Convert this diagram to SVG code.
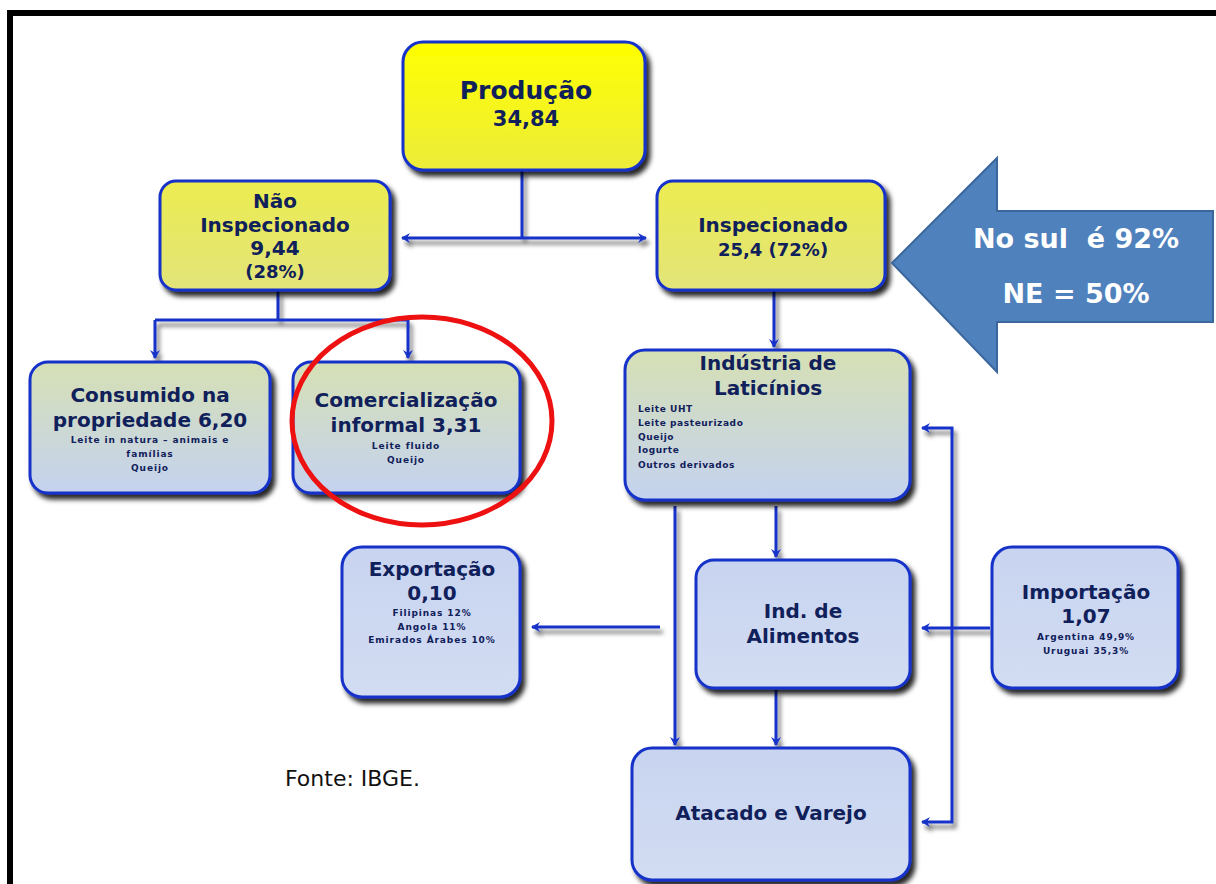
<svg xmlns="http://www.w3.org/2000/svg" width="1216" height="884" viewBox="0 0 1216 884">
<defs>
<linearGradient id="gYel" x1="0" y1="0" x2="0" y2="1"><stop offset="0" stop-color="#ffff00"/><stop offset="1" stop-color="#ecec3c"/></linearGradient>
<linearGradient id="gYel2" x1="0" y1="0" x2="0" y2="1"><stop offset="0" stop-color="#ecec50"/><stop offset="1" stop-color="#e2e47a"/></linearGradient>
<linearGradient id="gGB" x1="0" y1="0" x2="0" y2="1"><stop offset="0" stop-color="#d6e0b4"/><stop offset="1" stop-color="#c4d2f0"/></linearGradient>
<linearGradient id="gBlue" x1="0" y1="0" x2="0" y2="1"><stop offset="0" stop-color="#c8d4f0"/><stop offset="1" stop-color="#d2dcf2"/></linearGradient>
<filter id="sh" x="-10%" y="-10%" width="130%" height="130%"><feDropShadow dx="4" dy="5" stdDeviation="2.5" flood-color="#000" flood-opacity="0.85"/></filter>
<filter id="lsh" x="-10%" y="-50%" width="130%" height="250%"><feDropShadow dx="3" dy="5" stdDeviation="2" flood-color="#000" flood-opacity="0.55"/></filter>
<marker id="ah" markerWidth="10" markerHeight="10" refX="8" refY="5" orient="auto" markerUnits="userSpaceOnUse"><path d="M0,0 L9,5 L0,10 L3,5 Z" fill="#1432c8"/></marker>
<marker id="ahs" markerWidth="10" markerHeight="10" refX="1" refY="5" orient="auto" markerUnits="userSpaceOnUse"><path d="M9,0 L0,5 L9,10 L6,5 Z" fill="#1432c8"/></marker>
</defs>
<style>
.box{stroke:#1432c8;stroke-width:3}
.t{font-family:"DejaVu Sans","Liberation Sans",Arial,sans-serif;font-weight:bold;fill:#10205a;text-anchor:middle}
.big{font-size:20px}
.sm{font-size:9px;letter-spacing:0.9px}
.lst{font-family:"DejaVu Sans","Liberation Sans",Arial,sans-serif;font-weight:bold;fill:#10205a;font-size:9px;letter-spacing:0.6px}
.ln{fill:none;stroke:#1432c8;stroke-width:3}
</style>
<rect x="0" y="0" width="1216" height="884" fill="#ffffff"/>
<path d="M10,890 L10,13 L1220,13" fill="none" stroke="#000" stroke-width="6"/>

<g id="connectors" filter="url(#lsh)">
<path class="ln" d="M522,170 V238"/>
<path class="ln" d="M402,238 H646" marker-start="url(#ahs)" marker-end="url(#ah)"/>
<path class="ln" d="M278,291 V320"/>
<path class="ln" d="M155,320 H408"/>
<path class="ln" d="M155,320 V358" marker-end="url(#ah)"/>
<path class="ln" d="M408,320 V358" marker-end="url(#ah)"/>
<path class="ln" d="M774,291 V347" marker-end="url(#ah)"/>
<path class="ln" d="M776,506 V557" marker-end="url(#ah)"/>
<path class="ln" d="M675,506 V745" marker-end="url(#ah)"/>
<path class="ln" d="M776,690 V745" marker-end="url(#ah)"/>
<path class="ln" d="M660,627 H532" marker-end="url(#ah)"/>
<path class="ln" d="M990,628 H922" marker-end="url(#ah)" stroke-width="2"/>
<path class="ln" d="M922,428 H952 V822 H922" marker-start="url(#ahs)" marker-end="url(#ah)"/>
</g>

<g id="producao"><rect class="box" x="403" y="42" width="242" height="128" rx="20" fill="url(#gYel)" filter="url(#sh)"/>
<text class="t" x="526" y="99" font-size="25">Produção</text><text class="t" x="526" y="126" font-size="21">34,84</text></g>

<g id="nao-inspecionado"><rect class="box" x="160" y="181" width="230" height="109" rx="16" fill="url(#gYel2)" filter="url(#sh)"/>
<text class="t" x="275" y="208" font-size="20">Não</text><text class="t" x="275" y="232" font-size="20">Inspecionado</text><text class="t" x="275" y="255" font-size="20">9,44</text><text class="t" x="275" y="278" font-size="18">(28%)</text></g>

<g id="inspecionado"><rect class="box" x="657" y="181" width="228" height="109" rx="16" fill="url(#gYel2)" filter="url(#sh)"/>
<text class="t" x="773" y="232" font-size="20">Inspecionado</text><text class="t" x="773" y="256" font-size="18">25,4 (72%)</text></g>

<g id="consumido"><rect class="box" x="30" y="362" width="240" height="131" rx="18" fill="url(#gGB)" filter="url(#sh)"/>
<text class="t big" x="150" y="402">Consumido na</text><text class="t big" x="150" y="427">propriedade 6,20</text>
<text class="t sm" x="150" y="443">Leite in natura – animais e</text><text class="t sm" x="150" y="457">famílias</text><text class="t sm" x="150" y="471">Queijo</text></g>

<g id="comercializacao"><rect class="box" x="293" y="362" width="227" height="131" rx="18" fill="url(#gGB)" filter="url(#sh)"/>
<text class="t big" x="406" y="407">Comercialização</text><text class="t big" x="406" y="432">informal 3,31</text>
<text class="t sm" x="406" y="449">Leite fluido</text><text class="t sm" x="406" y="463">Queijo</text></g>

<g id="industria"><rect class="box" x="625" y="350" width="285" height="150" rx="20" fill="url(#gGB)" filter="url(#sh)"/>
<text class="t big" x="768" y="370">Indústria de</text><text class="t big" x="768" y="395">Laticínios</text>
<g class="lst"><text x="638" y="412">Leite UHT</text><text x="638" y="426">Leite pasteurizado</text><text x="638" y="440">Queijo</text><text x="638" y="453">Iogurte</text><text x="638" y="468">Outros derivados</text></g></g>

<g id="exportacao"><rect class="box" x="342" y="547" width="178" height="150" rx="20" fill="url(#gBlue)" filter="url(#sh)"/>
<text class="t big" x="432" y="576">Exportação</text><text class="t big" x="432" y="600">0,10</text>
<text class="t sm" x="432" y="616">Filipinas 12%</text><text class="t sm" x="432" y="630">Angola 11%</text><text class="t sm" x="432" y="643">Emirados Árabes 10%</text></g>

<g id="ind-alimentos"><rect class="box" x="696" y="560" width="214" height="128" rx="18" fill="url(#gBlue)" filter="url(#sh)"/>
<text class="t big" x="803" y="618">Ind. de</text><text class="t big" x="803" y="643">Alimentos</text></g>

<g id="importacao"><rect class="box" x="992" y="547" width="186" height="141" rx="20" fill="url(#gBlue)" filter="url(#sh)"/>
<text class="t big" x="1086" y="599">Importação</text><text class="t big" x="1086" y="623">1,07</text>
<text class="t sm" x="1086" y="640">Argentina 49,9%</text><text class="t sm" x="1086" y="654">Uruguai 35,3%</text></g>

<g id="atacado"><rect class="box" x="632" y="748" width="278" height="132" rx="20" fill="url(#gBlue)" filter="url(#sh)"/>
<text class="t big" x="771" y="820">Atacado e Varejo</text></g>

<g id="seta-sul">
<path d="M892,263 L997,158 L997,211 L1213,211 L1213,322 L997,322 L997,372 Z" fill="#4f81bd" stroke="#3b679c" stroke-width="2"/>
<text x="1076" y="248" xml:space="preserve" font-family="DejaVu Sans,Liberation Sans,Arial,sans-serif" font-weight="bold" font-size="27" fill="#ffffff" text-anchor="middle">No sul  é 92%</text>
<text x="1076" y="303" font-family="DejaVu Sans,Liberation Sans,Arial,sans-serif" font-weight="bold" font-size="27" fill="#ffffff" text-anchor="middle">NE = 50%</text>
</g>

<ellipse cx="422" cy="421" rx="130" ry="104" fill="none" stroke="#ee1111" stroke-width="5"/>

<text x="285" y="786" font-family="DejaVu Sans,Liberation Sans,Arial,sans-serif" font-size="22" fill="#111">Fonte: IBGE.</text>
</svg>
